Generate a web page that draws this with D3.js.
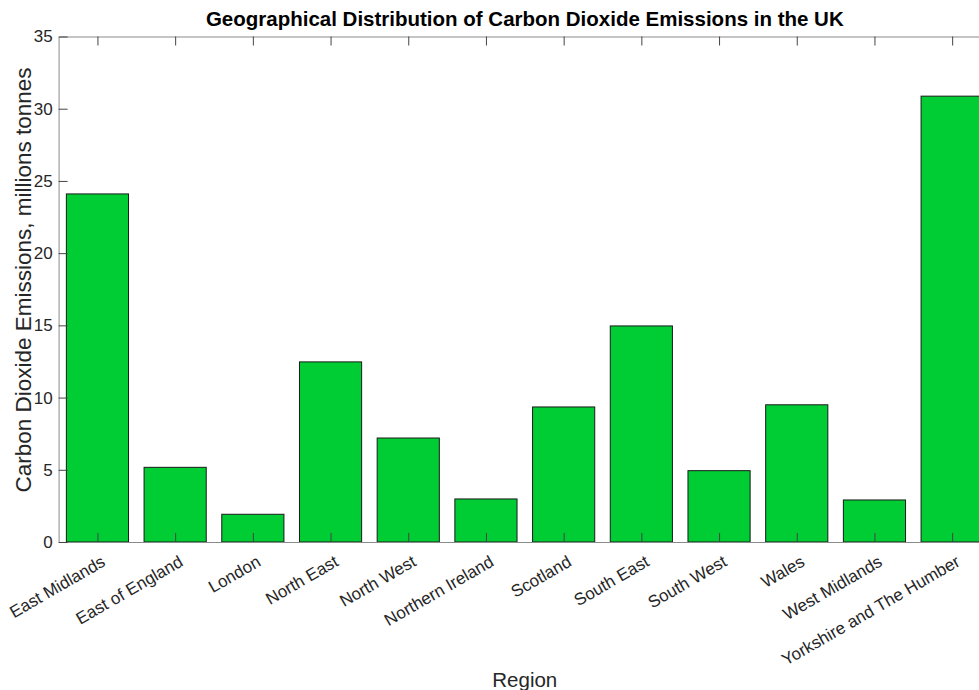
<!DOCTYPE html>
<html><head><meta charset="utf-8">
<script src="https://cdn.jsdelivr.net/npm/d3@7"></script>
<style>body{margin:0;background:#fff;overflow:hidden}svg{display:block}</style>
</head><body><div id="chart"></div>
<script>
const categories = ["East Midlands","East of England","London","North East","North West","Northern Ireland","Scotland","South East","South West","Wales","West Midlands","Yorkshire and The Humber"];
const values = [24.1, 5.17, 1.92, 12.47, 7.2, 2.98, 9.35, 14.96, 4.94, 9.5, 2.91, 30.87];
const yTicks = [0,5,10,15,20,25,30,35];

(function(){
const W = 979, H = 690;
const mL = 58.6, mR = 991, mT = 36.5, mB = 542;
const svg = d3.select("#chart").append("svg").attr("width", W).attr("height", H);
const font = "'Liberation Sans', Arial, Helvetica, sans-serif";

const x = d3.scaleLinear().domain([0.5, categories.length + 0.5]).range([mL, mR]);
const y = d3.scaleLinear().domain([0, 35]).range([mB, mT]);
const bw = x(1.4) - x(0.6);

svg.append("g").selectAll("rect").data(values).join("rect")
  .attr("x", (d,i) => x(i+1) - bw/2)
  .attr("y", d => y(d))
  .attr("width", bw)
  .attr("height", d => y(0) - y(d))
  .attr("fill", "#00cc33")
  .attr("stroke", "#1a1a1a")
  .attr("stroke-width", 1);

const axisCol = "#8a8a8a";
const textCol = "#262626";
const tickLen = 9;

const xb = d3.axisBottom(x).tickValues(d3.range(1, categories.length+1))
  .tickSizeInner(-tickLen).tickSizeOuter(0).tickFormat("");
const gb = svg.append("g").attr("transform", `translate(0,${mB})`).call(xb);
const xt = d3.axisTop(x).tickValues(d3.range(1, categories.length+1))
  .tickSizeInner(-tickLen).tickSizeOuter(0).tickFormat("");
const gt = svg.append("g").attr("transform", `translate(0,${mT})`).call(xt);
const yl = d3.axisLeft(y).tickValues(yTicks).tickSizeInner(-tickLen).tickSizeOuter(0)
  .tickFormat(d3.format("d")).tickPadding(6);
const gl = svg.append("g").attr("transform", `translate(${mL},0)`).call(yl);
const yr = d3.axisRight(y).tickValues(yTicks).tickSizeInner(-tickLen).tickSizeOuter(0).tickFormat("");
const gr = svg.append("g").attr("transform", `translate(${mR},0)`).call(yr);

[gb, gt, gl, gr].forEach(g => {
  g.selectAll(".domain").attr("stroke", axisCol).attr("stroke-width", 1);
  g.selectAll(".tick line").attr("stroke", "#444").attr("stroke-width", 1);
});
gl.selectAll(".tick text").attr("font-family", font).attr("font-size", 17).attr("fill", textCol);

svg.append("g").selectAll("text").data(categories).join("text")
  .attr("transform", (d,i) => `translate(${x(i+1)+9},${mB+23}) rotate(-30)`)
  .attr("text-anchor", "end")
  .attr("font-family", font).attr("font-size", 17).attr("fill", textCol)
  .text(d => d);

svg.append("text").attr("x", (mL+mR)/2).attr("y", 26)
  .attr("text-anchor", "middle").attr("font-family", font).attr("font-weight", "bold")
  .attr("font-size", 20.5).attr("fill", "#000")
  .text("Geographical Distribution of Carbon Dioxide Emissions in the UK");

svg.append("text").attr("x", (mL+mR)/2).attr("y", 687)
  .attr("text-anchor", "middle").attr("font-family", font)
  .attr("font-size", 20.5).attr("fill", textCol).text("Region");

svg.append("text").attr("transform", `translate(31,280) rotate(-90)`)
  .attr("text-anchor", "middle").attr("font-family", font)
  .attr("font-size", 22.5).attr("fill", textCol)
  .text("Carbon Dioxide Emissions, millions tonnes");
})();
</script></body></html>
